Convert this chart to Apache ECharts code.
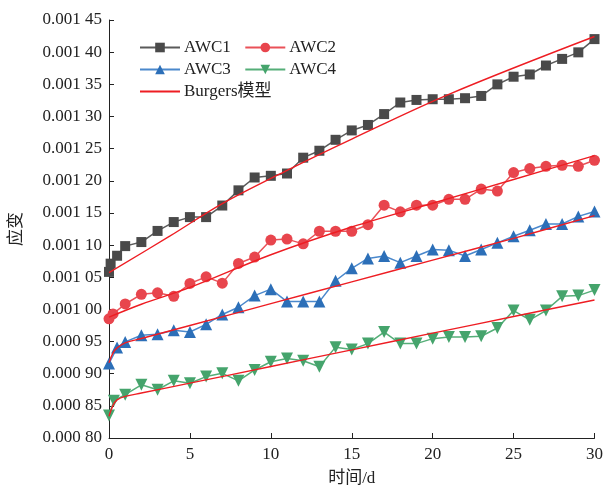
<!DOCTYPE html>
<html>
<head>
<meta charset="utf-8">
<script src="https://cdn.jsdelivr.net/npm/echarts@6/dist/echarts.min.js"></script>
<style>
  html, body { margin: 0; padding: 0; background: #fff; }
  #chart { width: 606px; height: 492px; }
</style>
</head>
<body>
<div id="chart"></div>
<script>
// Creep strain of the four AWC specimens over 30 days, with Burgers model fits.
const awc1Days = [0, 0.1, 0.5, 1, 2, 3, 4, 5, 6, 7, 8, 9, 10, 11, 12, 13, 14, 15, 16, 17, 18, 19, 20, 21, 22, 23, 24, 25, 26, 27, 28, 29, 30];
const awc1Strain = [0.0010583, 0.0010711, 0.0010834, 0.0010984, 0.0011047, 0.001122, 0.0011358, 0.0011435, 0.0011435, 0.0011615,
  0.0011851, 0.0012051, 0.0012077, 0.0012113, 0.0012359, 0.0012467, 0.0012637, 0.0012783, 0.0012868, 0.0013037,
  0.0013217, 0.0013257, 0.0013268, 0.0013268, 0.0013284, 0.0013319, 0.0013499, 0.0013618, 0.0013653, 0.0013792,
  0.0013895, 0.0013997, 0.0014203];

const awc2Days = [0, 0.25, 1, 2, 3, 4, 5, 6, 7, 8, 9, 10, 11, 12, 13, 14, 15, 16, 17, 18, 19, 20, 21, 22, 23, 24, 25, 26, 27, 28, 29, 30];
const awc2Strain = [0.0009853, 0.000993, 0.0010084, 0.0010234, 0.0010257, 0.0010203, 0.0010403, 0.0010506, 0.0010408, 0.0010714,
  0.0010814, 0.0011078, 0.0011093, 0.0011019, 0.0011215, 0.0011215, 0.0011215, 0.0011317, 0.001162, 0.0011517,
  0.001162, 0.001162, 0.0011712, 0.0011712, 0.0011871, 0.001184, 0.0012128, 0.001219, 0.0012225, 0.0012241,
  0.0012225, 0.0012318];

const awc3Days = [0, 0.5, 1, 2, 3, 4, 5, 6, 7, 8, 9, 10, 11, 12, 13, 14, 15, 16, 17, 18, 19, 20, 21, 22, 23, 24, 25, 26, 27, 28, 29, 30];
const awc3Strain = [0.000916, 0.0009406, 0.0009494, 0.0009597, 0.0009613, 0.0009674, 0.0009648, 0.0009767, 0.0009921, 0.0010033,
  0.0010214, 0.0010315, 0.0010121, 0.0010121, 0.0010121, 0.0010445, 0.0010639, 0.0010793, 0.001083, 0.0010727,
  0.001083, 0.0010931, 0.0010921, 0.001083, 0.0010931, 0.0011035, 0.0011138, 0.001123, 0.0011327, 0.0011327,
  0.0011446, 0.0011523];

const awc4Days = [0, 0.3, 1, 2, 3, 4, 5, 6, 7, 8, 9, 10, 11, 12, 13, 14, 15, 16, 17, 18, 19, 20, 21, 22, 23, 24, 25, 26, 27, 28, 29, 30];
const awc4Strain = [0.000835, 0.0008581, 0.0008673, 0.0008827, 0.000875, 0.0008889, 0.0008852, 0.0008955, 0.0009006, 0.0008889,
  0.0009058, 0.0009186, 0.0009237, 0.0009202, 0.0009109, 0.0009413, 0.0009376, 0.0009468, 0.0009648, 0.0009468,
  0.0009468, 0.0009545, 0.0009571, 0.0009571, 0.0009582, 0.000971, 0.0009982, 0.0009838, 0.0009982, 0.0010203,
  0.0010214, 0.00103];

// Burgers model fit curves
const fit1Days = [0, 3.75, 7, 11, 15, 21, 30];
const fit1Strain = [0.0010572, 0.0011138, 0.0011646, 0.0012163, 0.0012649, 0.0013344, 0.0014243];

const fit2Days = [0, 2, 5, 10, 15, 20, 25, 30];
const fit2Strain = [0.0009879, 0.001008, 0.0010341, 0.001085, 0.0011281, 0.0011651, 0.001202, 0.001239];

const fit3Days = [0, 0.25, 0.5, 1, 2, 5, 10, 15, 20, 25, 30];
const fit3Strain = [0.0009171, 0.0009325, 0.0009402, 0.0009479, 0.0009547, 0.000975, 0.0010089, 0.0010428, 0.0010767, 0.0011105, 0.0011458];

const fit4Days = [0, 0.25, 0.5, 1, 2, 5, 10, 15, 20, 25, 30];
const fit4Strain = [0.0008339, 0.0008508, 0.0008593, 0.0008647, 0.0008699, 0.0008853, 0.0009112, 0.0009371, 0.000963, 0.0009889, 0.0010146];

const legendNames = ['AWC1', 'AWC2', 'AWC3', 'AWC4', 'Burgers模型'];
const xTitle = '时间/d';
const yTitle = '应变';

const FONT = '"Liberation Serif", "Times New Roman", "Noto Sans CJK SC", serif';
const FIT_RED = '#ee1d23';

function pairs(xs, ys) {
  return xs.map((x, i) => [x, ys[i]]);
}

function measured(name, xs, ys, color, lineColor, symbol, size, rotate) {
  return {
    name: name,
    type: 'line',
    data: pairs(xs, ys),
    symbol: symbol,
    symbolSize: size,
    symbolRotate: rotate || 0,
    showAllSymbol: true,
    lineStyle: { color: lineColor, width: 1.5 },
    itemStyle: { color: color },
    z: 2
  };
}

function fitted(xs, ys) {
  return {
    name: 'Burgers模型',
    type: 'line',
    data: pairs(xs, ys),
    smooth: 0.35,
    symbol: 'none',
    lineStyle: { color: FIT_RED, width: 1.4 },
    // no markers on the fit, so the legend shows a bare line
    itemStyle: { color: 'rgba(0,0,0,0)', borderWidth: 0 },
    z: 3
  };
}

const chart = echarts.init(document.getElementById('chart'), null, { renderer: 'canvas' });

chart.setOption({
  animation: false,
  backgroundColor: '#fff',
  textStyle: { fontFamily: FONT },
  grid: { left: 109, right: 10, top: 20, bottom: 50, containLabel: false },
  legend: {
    data: legendNames,
    left: 139,
    top: 39,
    width: 240,
    itemWidth: 40,
    itemHeight: 12,
    itemGap: 5,
    // trailing spaces widen the first column a little
    formatter: function (name) { return name + '  '; },
    textStyle: { fontFamily: FONT, fontSize: 17, color: '#222', padding: [0, 0, 0, -1] },
    padding: 0
  },
  xAxis: {
    type: 'value',
    min: 0,
    max: 30,
    interval: 5,
    name: xTitle,
    nameLocation: 'middle',
    nameGap: 32,
    nameTextStyle: { fontFamily: FONT, fontSize: 17, color: '#222' },
    axisLine: { lineStyle: { color: '#222', width: 1 } },
    axisTick: { inside: true, length: 5, lineStyle: { color: '#222' } },
    axisLabel: { fontFamily: FONT, fontSize: 17, color: '#222', margin: 8 },
    splitLine: { show: false }
  },
  yAxis: {
    type: 'value',
    min: 0.0008,
    max: 0.00145,
    interval: 0.00005,
    name: yTitle,
    nameLocation: 'middle',
    nameGap: 84,
    nameTextStyle: { fontFamily: FONT, fontSize: 17, color: '#222' },
    axisLine: { show: true, lineStyle: { color: '#222', width: 1 } },
    axisTick: { show: true, inside: true, length: 5, lineStyle: { color: '#222' } },
    axisLabel: {
      fontFamily: FONT,
      fontSize: 17,
      color: '#222',
      margin: 7,
      formatter: function (v) {
        const s = v.toFixed(5);
        return s.slice(0, 5) + ' ' + s.slice(5);
      }
    },
    splitLine: { show: false }
  },
  series: [
    measured('AWC1', awc1Days, awc1Strain, '#4a4a4a', '#5a5a5a', 'rect', 10),
    measured('AWC2', awc2Days, awc2Strain, '#e8454d', '#ea5158', 'circle', 11),
    measured('AWC3', awc3Days, awc3Strain, '#2c6fb8', '#4a88cc', 'triangle', 12),
    measured('AWC4', awc4Days, awc4Strain, '#45a46c', '#55ae78', 'triangle', 12, 180),
    fitted(fit1Days, fit1Strain),
    fitted(fit2Days, fit2Strain),
    fitted(fit3Days, fit3Strain),
    fitted(fit4Days, fit4Strain)
  ]
});
</script>
</body>
</html>
